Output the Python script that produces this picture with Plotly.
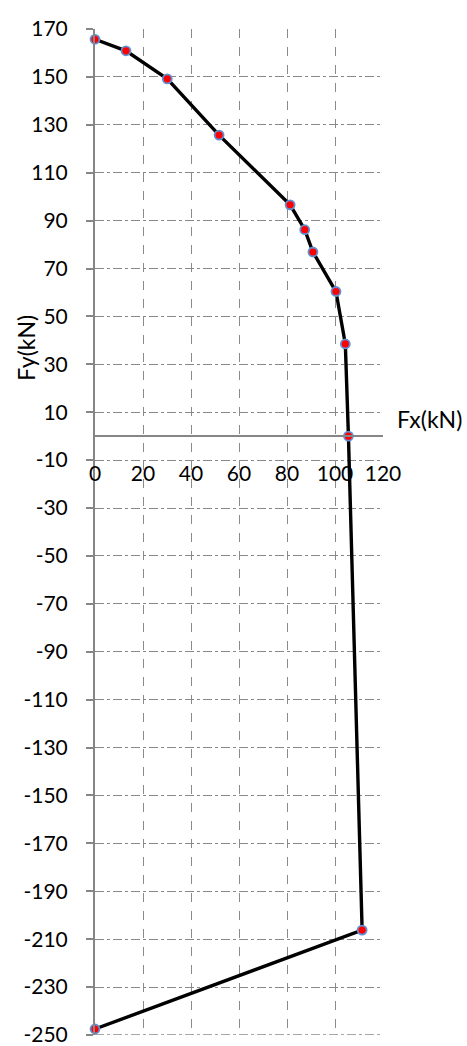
import plotly.graph_objects as go

fx = [0, 12.9, 30.1, 51.7, 81.3, 87.4, 90.8, 100.4, 104.3, 105.6, 111.3, 0]
fy = [165.7, 160.9, 149.2, 125.7, 96.6, 86.2, 76.9, 60.4, 38.5, 0, -206.2, -247.5]

x_ticks = [0, 20, 40, 60, 80, 100, 120]
y_ticks = list(range(-250, 171, 20))
x_title = "Fx(kN)"
y_title = "Fy(kN)"

FONT = "Lato, 'Open Sans', sans-serif"
GRID = "#8a8a8a"
AXIS = "#868686"

fig = go.Figure()
fig.add_trace(go.Scatter(
    x=fx, y=fy, mode="lines+markers",
    line=dict(color="black", width=3.4),
    marker=dict(size=9, color="#ff0000", line=dict(color="#6190d4", width=1.8)),
    cliponaxis=False, showlegend=False,
))

# bottom gridline at the lower end of the y range
fig.add_shape(type="line", xref="paper", yref="y", x0=0, x1=1,
              y0=y_ticks[0], y1=y_ticks[0], layer="below",
              line=dict(color=GRID, width=1.3, dash="dashdot"))

fig.update_layout(
    width=467, height=1046,
    margin=dict(l=95, r=84, t=29, b=10.5, autoexpand=False),
    paper_bgcolor="white", plot_bgcolor="white",
    font=dict(family=FONT, size=21, color="black"),
    xaxis=dict(
        range=[0, 120], tickvals=x_ticks, ticktext=[str(v) for v in x_ticks],
        showgrid=True, gridcolor=GRID, griddash="dash", gridwidth=1.3,
        anchor="free", position=250 / 420, automargin=False,
        showline=True, linecolor=AXIS, linewidth=2,
        ticks="", ticklabelstandoff=19, zeroline=False,
    ),
    yaxis=dict(
        range=[-250, 170], tickvals=y_ticks, ticktext=[str(v) for v in y_ticks],
        showgrid=True, gridcolor=GRID, griddash="dashdot", gridwidth=1.3,
        showline=True, linecolor=AXIS, linewidth=2, automargin=False,
        ticks="outside", ticklen=7, tickcolor=AXIS, tickwidth=1.5,
        ticklabelstandoff=14, zeroline=False, ticklabeloverflow="allow",
    ),
    annotations=[
        dict(text=y_title, xref="paper", yref="y", x=0, y=36.9, xshift=-69,
             xanchor="center", yanchor="middle",
             textangle=-90, showarrow=False, font=dict(size=23, family=FONT)),
        dict(text=x_title, xref="paper", yref="y", x=1, y=7, xshift=46,
             xanchor="center", yanchor="middle",
             showarrow=False, font=dict(size=23, family=FONT)),
    ],
)

fig.write_html("out.html")
